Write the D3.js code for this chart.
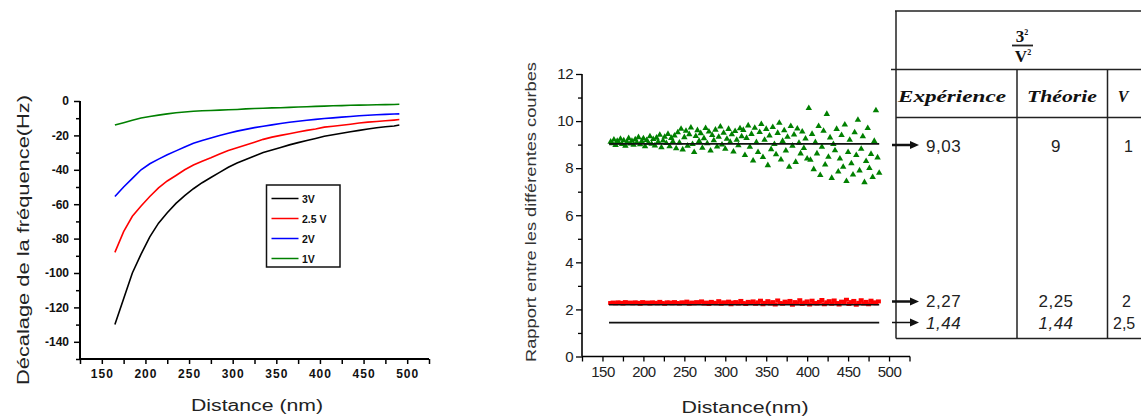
<!DOCTYPE html>
<html><head><meta charset="utf-8">
<script src="https://cdn.jsdelivr.net/npm/d3@7"></script>
<style>body{margin:0;background:#fff} svg{display:block}</style>
</head><body><svg id="c" width="1141" height="417"></svg>
<script>
// ---------- DATA ----------
// Left chart: frequency shift (Hz) vs distance (nm)
const distances = [165,175,185,195,205,215,225,235,245,255,265,275,285,295,305,315,325,335,345,355,365,375,385,395,405,415,425,435,445,455,465,475,485,491];
const shift3V  = [-130,-115,-100,-89,-79,-71,-65,-59.5,-55,-51,-47.5,-44.5,-41.5,-38.5,-36,-34,-32,-30,-28.5,-27,-25.5,-24.2,-23,-21.8,-20.5,-19.6,-18.7,-17.9,-17.1,-16.3,-15.6,-15,-14.5,-14];
const shift25V = [-88,-76,-67,-61,-55.5,-50.5,-46.5,-43.3,-40,-37.2,-35,-33,-30.8,-28.8,-27.2,-25.6,-24,-22.3,-21,-20,-19,-18,-17.1,-16.3,-15.2,-14.7,-14.1,-13.5,-12.8,-12.3,-11.9,-11.5,-11.1,-10.8];
const shift2V  = [-55.5,-50,-45,-40,-36.5,-33.8,-31.3,-29,-26.8,-24.6,-23,-21.5,-20,-18.7,-17.5,-16.5,-15.5,-14.7,-13.9,-13.1,-12.4,-11.8,-11.2,-10.7,-10.2,-9.8,-9.4,-9,-8.6,-8.3,-8,-7.8,-7.6,-7.5];
const shift1V  = [-14,-12.6,-11.2,-9.9,-9,-8.2,-7.5,-6.8,-6.4,-6,-5.7,-5.5,-5.3,-5.1,-4.9,-4.6,-4.4,-4.2,-4,-3.9,-3.7,-3.5,-3.3,-3.1,-3,-2.8,-2.7,-2.5,-2.4,-2.3,-2.2,-2.1,-2,-1.9];
const legendLabels = ["3V", "2.5 V", "2V", "1V"];
const leftXTicks = [150,200,250,300,350,400,450,500];
const leftYTicks = [0,-20,-40,-60,-80,-100,-120,-140];

// Right chart: ratio between curves vs distance (nm)
const greenDistances = d3.range(160, 489, 2);
const ratioGreen = [
 9.12,9.05,9.21,8.98,9.15,9.08,9.24,9.02,9.18,8.95,9.11,9.27,9.04,9.16,8.99,9.22,9.09,9.31,9.01,9.14,9.26,8.93,9.19,9.07,9.35,9.03,9.23,8.96,9.29,9.12,9.41,8.88,9.17,9.33,9.06,9.45,8.92,9.28,9.13,9.38,8.84,
 9.52,9.08,9.67,8.79,9.31,9.58,8.95,9.44,9.72,9.02,8.68,9.36,9.61,9.15,9.48,8.86,9.27,9.70,9.05,9.55,8.74,9.40,9.18,9.63,8.91,9.33,9.76,9.00,9.50,8.82,9.24,9.66,9.11,9.43,8.70,9.57,9.20,8.97,9.69,9.35,
 9.62,8.55,9.28,9.81,8.90,9.45,8.32,9.71,9.10,8.68,9.53,9.87,8.47,9.20,9.66,8.12,9.38,8.80,9.74,9.02,8.58,9.49,9.92,8.36,9.15,9.60,8.74,9.33,8.05,9.78,8.95,9.42,8.26,9.68,9.07,8.62,9.55,8.85,9.25,8.40,
 10.55,8.35,9.45,7.95,9.10,8.62,9.78,7.70,8.90,9.58,8.15,10.30,8.48,9.30,7.58,9.02,8.75,9.66,7.85,8.40,9.40,8.05,9.85,7.45,8.68,9.20,8.20,7.72,9.52,8.55,10.05,7.90,8.82,9.35,7.40,8.30,9.70,8.00,8.60,7.62,9.15,10.45,8.45,7.80];
const redDistances = d3.range(160, 488, 3);
const ratioRed = [
 2.27,2.29,2.26,2.30,2.28,2.25,2.31,2.27,2.29,2.26,2.30,2.28,2.24,2.31,2.27,2.29,2.25,2.30,2.28,2.26,2.32,2.27,2.24,2.30,2.29,2.26,2.31,2.27,2.25,2.30,
 2.28,2.33,2.24,2.29,2.26,2.31,2.27,2.34,2.25,2.29,2.23,2.32,2.28,2.26,2.35,2.24,2.30,2.27,2.33,2.22,2.29,2.31,2.25,2.36,2.27,2.23,2.32,2.28,2.34,2.24,
 2.30,2.37,2.22,2.28,2.35,2.25,2.31,2.21,2.38,2.27,2.24,2.33,2.29,2.36,2.20,2.31,2.26,2.39,2.23,2.29,2.34,2.21,2.37,2.27,2.25,2.32,2.40,2.22,2.30,2.35,
 2.24,2.38,2.27,2.21,2.33,2.29,2.41,2.23,2.31,2.36,2.20,2.28,2.39,2.25,2.32,2.22,2.37,2.30,2.26,2.34];
const refLevels = [9.03, 2.2, 1.44];
const refSpan = [158, 488];
const rightXTicks = [150,200,250,300,350,400,450,500];
const rightYTicks = [0,2,4,6,8,10,12];

// Table
const colExperience = ["9,03", "2,27", "1,44"];
const colTheory = ["9", "2,25", "1,44"];
const colV = ["1", "2", "2,5"];

// ---------- DRAW ----------
const svg = d3.select("#c");
const sans = "'Liberation Sans', Arial, sans-serif";
const serif = "'Liberation Serif', 'Times New Roman', serif";

// ===== Left chart =====
const xL = d3.scaleLinear().domain([125, 525]).range([80, 429]);
const yL = d3.scaleLinear().domain([-150, 0]).range([359, 101]);
const gL = svg.append("g");

const xAxisL = d3.axisBottom(xL).tickValues(d3.range(125, 526, 25))
  .tickSize(5).tickFormat(d => leftXTicks.includes(d) ? String(d) : "");
const gxL = gL.append("g").attr("transform", "translate(0,359)").call(xAxisL);
gxL.select(".domain").attr("stroke-width", 2).attr("d", "M80,0H429");
gxL.selectAll(".tick line").attr("stroke-width", 1.5);
gxL.selectAll(".tick text").attr("font-family", sans).attr("font-weight", "bold")
  .attr("font-size", 12).attr("letter-spacing", 1).attr("dy", "0.95em").attr("fill", "#111");

const yAxisL = d3.axisLeft(yL).tickValues(d3.range(-150, 1, 10))
  .tickSize(5).tickFormat(d => leftYTicks.includes(d) ? String(d) : "");
const gyL = gL.append("g").attr("transform", "translate(80,0)").call(yAxisL);
gyL.select(".domain").attr("stroke-width", 2).attr("d", "M0,101V359");
gyL.selectAll(".tick line").attr("stroke-width", 1.5)
  .attr("x2", d => leftYTicks.includes(d) ? -6 : -4);
gyL.selectAll(".tick text").attr("font-family", sans).attr("font-weight", "bold")
  .attr("font-size", 12).attr("x", -11).attr("fill", "#111");

const leftSeries = [shift3V, shift25V, shift2V, shift1V];
const leftColors = ["#000000", "#ff0000", "#0000ff", "#008000"];
const lineL = d3.line().x((d, i) => xL(distances[i])).y(d => yL(d));
leftSeries.forEach((s, k) => {
  gL.append("path").datum(s).attr("d", lineL).attr("fill", "none")
    .attr("stroke", leftColors[k]).attr("stroke-width", 1.6);
});

// legend
const lg = gL.append("g");
lg.append("rect").attr("x", 266.5).attr("y", 185).attr("width", 73.5).attr("height", 82)
  .attr("fill", "#fff").attr("stroke", "#111").attr("stroke-width", 1.5);
legendLabels.forEach((lab, i) => {
  const yy = 198.5 + i * 20;
  lg.append("line").attr("x1", 271.5).attr("x2", 298.5).attr("y1", yy).attr("y2", yy)
    .attr("stroke", leftColors[i]).attr("stroke-width", 1.5);
  lg.append("text").attr("x", 302).attr("y", yy + 4).text(lab)
    .attr("font-family", sans).attr("font-weight", "bold").attr("font-size", 10.5).attr("fill", "#111");
});

gL.append("text").attr("x", 257).attr("y", 411).attr("text-anchor", "middle")
  .attr("font-family", sans).attr("font-size", 16).attr("textLength", 132)
  .attr("lengthAdjust", "spacingAndGlyphs").attr("fill", "#222").text("Distance (nm)");
gL.append("text").attr("transform", "translate(29,240) rotate(-90)").attr("text-anchor", "middle")
  .attr("font-family", sans).attr("font-size", 16).attr("textLength", 290)
  .attr("lengthAdjust", "spacingAndGlyphs").attr("fill", "#222").text("Décalage de la fréquence(Hz)");

// ===== Right chart =====
const xR = d3.scaleLinear().domain([125, 525]).range([582, 909.5]);
const yR = d3.scaleLinear().domain([0, 12]).range([356.5, 74]);
const gR = svg.append("g");

// green scatter
const tri = d3.symbol().type(d3.symbolTriangle).size(18);
gR.append("g").selectAll("path").data(ratioGreen).join("path")
  .attr("transform", (d, i) => `translate(${xR(greenDistances[i])},${yR(d)})`)
  .attr("d", tri).attr("fill", "#008000");

// red band
gR.append("g").selectAll("rect").data(ratioRed).join("rect")
  .attr("x", (d, i) => xR(redDistances[i]) - 2.5)
  .attr("y", d => yR(d) - 2).attr("width", 5).attr("height", 4).attr("fill", "#ff0000");

// reference lines
refLevels.forEach(v => {
  gR.append("line").attr("x1", xR(refSpan[0])).attr("x2", xR(refSpan[1]))
    .attr("y1", yR(v)).attr("y2", yR(v)).attr("stroke", "#111").attr("stroke-width", 1.6);
});

const xAxisR = d3.axisBottom(xR).tickValues(d3.range(125, 526, 25))
  .tickSize(5).tickFormat(d => rightXTicks.includes(d) ? String(d) : "");
const gxR = gR.append("g").attr("transform", "translate(0,356.5)").call(xAxisR);
gxR.select(".domain").attr("stroke-width", 1.6).attr("d", "M582,0H910");
gxR.selectAll(".tick line").attr("stroke-width", 1.3);
gxR.selectAll(".tick text").attr("font-family", sans).attr("font-size", 15)
  .attr("letter-spacing", -0.5).attr("dy", "0.85em").attr("fill", "#222");

const yAxisR = d3.axisLeft(yR).tickValues(d3.range(0, 12.01, 1))
  .tickSize(5).tickFormat(d => rightYTicks.includes(d) ? String(d) : "");
const gyR = gR.append("g").attr("transform", "translate(582,0)").call(yAxisR);
gyR.select(".domain").attr("stroke-width", 1.6).attr("d", "M0,74V356.5");
gyR.selectAll(".tick line").attr("stroke-width", 1.3)
  .attr("x2", d => rightYTicks.includes(d) ? -6 : -4);
gyR.selectAll(".tick text").attr("font-family", sans).attr("font-size", 15)
  .attr("letter-spacing", -0.5).attr("x", -9).attr("fill", "#222");

gR.append("text").attr("x", 745).attr("y", 413).attr("text-anchor", "middle")
  .attr("font-family", sans).attr("font-size", 16).attr("textLength", 127)
  .attr("lengthAdjust", "spacingAndGlyphs").attr("fill", "#222").text("Distance(nm)");
gR.append("text").attr("transform", "translate(536,212) rotate(-90)").attr("text-anchor", "middle")
  .attr("font-family", sans).attr("font-size", 14).attr("textLength", 300)
  .attr("lengthAdjust", "spacingAndGlyphs").attr("fill", "#333").text("Rapport entre les différentes courbes");

// ===== Table =====
const gT = svg.append("g");
const tl = (x1, y1, x2, y2, w) => gT.append("line").attr("x1", x1).attr("y1", y1).attr("x2", x2).attr("y2", y2)
  .attr("stroke", "#222").attr("stroke-width", w || 1.5);
tl(895, 11, 1141, 11);
tl(896, 11, 896, 338.5);
tl(891, 69.5, 1141, 69.5);
tl(896, 117.5, 1141, 117.5);
tl(1017, 69.5, 1017, 338.5);
tl(1107.5, 69.5, 1107.5, 338.5);
tl(896, 338.5, 1141, 338.5);

// header fraction 3²/V²
const num = gT.append("text").attr("x", 1022).attr("y", 42).attr("text-anchor", "middle")
  .attr("font-family", serif).attr("font-weight", "bold").attr("font-size", 17).attr("fill", "#111");
num.append("tspan").text("3");
num.append("tspan").attr("font-size", 8).attr("dy", -7).text("2");
tl(1012, 45.5, 1033, 45.5, 1.8);
const den = gT.append("text").attr("x", 1023).attr("y", 62).attr("text-anchor", "middle")
  .attr("font-family", serif).attr("font-weight", "bold").attr("font-size", 17).attr("fill", "#111");
den.append("tspan").text("V");
den.append("tspan").attr("font-size", 8).attr("dy", -7).text("2");

const hdr = (x, txt, len) => {
  const t = gT.append("text").attr("x", x).attr("y", 102).attr("text-anchor", "middle")
    .attr("font-family", serif).attr("font-weight", "bold").attr("font-style", "italic")
    .attr("font-size", 16).attr("fill", "#111").text(txt);
  if (len) t.attr("textLength", len).attr("lengthAdjust", "spacingAndGlyphs");
};
hdr(952, "Expérience", 108);
hdr(1062, "Théorie", 70);
hdr(1123, "V");

const rowY = [152, 306.5, 329];
const rowItalic = [false, false, true];
colExperience.forEach((t, i) => {
  gT.append("text").attr("x", 926).attr("y", rowY[i]).text(t)
    .attr("font-family", sans).attr("font-size", 17).attr("letter-spacing", 0.5)
    .attr("font-style", rowItalic[i] ? "italic" : "normal").attr("fill", "#222");
});
colTheory.forEach((t, i) => {
  gT.append("text").attr("x", 1056).attr("y", rowY[i]).attr("text-anchor", "middle").text(t)
    .attr("font-family", sans).attr("font-size", 17).attr("letter-spacing", 0.5)
    .attr("font-style", rowItalic[i] ? "italic" : "normal").attr("fill", "#222");
});
const colVx = [1124, 1122, 1113];
colV.forEach((t, i) => {
  gT.append("text").attr("x", colVx[i]).attr("y", rowY[i]).text(t)
    .attr("font-family", sans).attr("font-size", 16).attr("fill", "#222");
});

// arrows
const arrowY = [145, 301.5, 322.5];
const arrowW = [2.5, 2.5, 1.5];
arrowY.forEach((yy, i) => {
  gT.append("line").attr("x1", 892).attr("x2", 912).attr("y1", yy).attr("y2", yy)
    .attr("stroke", "#111").attr("stroke-width", arrowW[i]);
  gT.append("path").attr("d", `M910,${yy - 4}L919,${yy}L910,${yy + 4}Z`).attr("fill", "#111");
});
</script></body></html>
